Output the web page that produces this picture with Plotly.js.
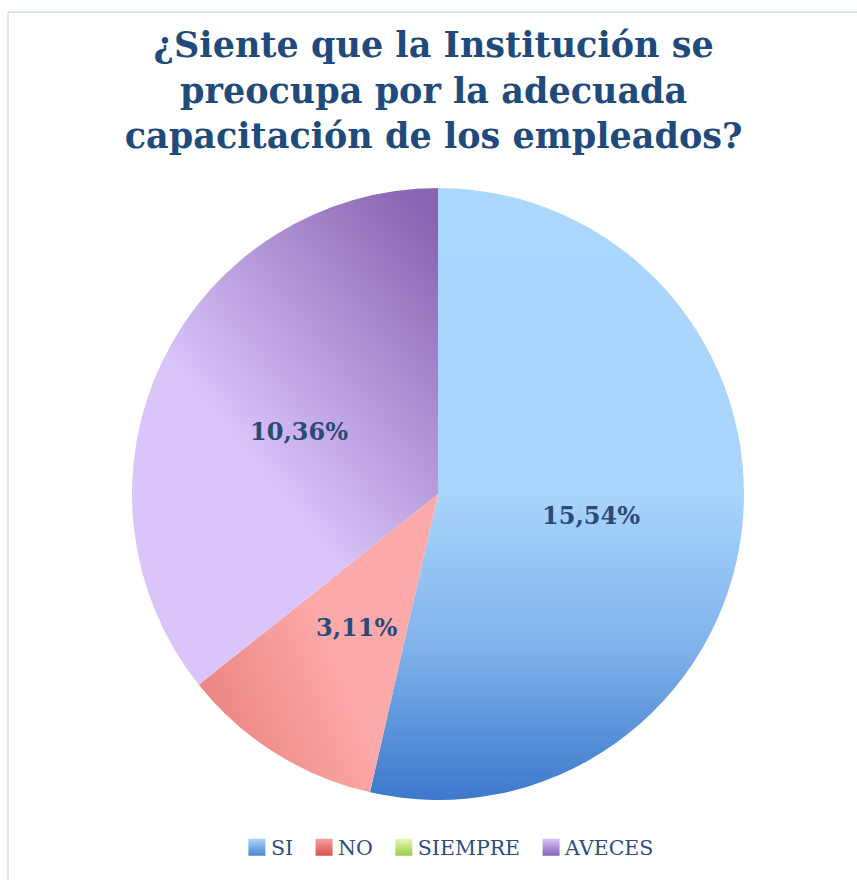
<!DOCTYPE html>
<html><head><meta charset="utf-8">
<script src="https://cdn.plot.ly/plotly-3.0.1.min.js"></script>
<style>html,body{margin:0;padding:0;background:#fff;}</style>
</head><body>
<div id="chart" style="width:857px;height:880px;"></div>
<script>
const categories = ["SI", "NO", "SIEMPRE", "AVECES"];
const values = [15.54, 3.11, 0, 10.36];
const labelsText = values.map(v => v.toFixed(2).replace('.', ',') + '%');
const colors = ["#9DCBF7", "#F9A4A4", "#C6E37E", "#CDB6F2"];

// gradient styling (fill only)
const sliceGrad = [
  {x1:0, y1:0, x2:0, y2:1, stops:[[0,'#ABD7FE'],[0.5,'#A9D4FC'],[0.75,'#80B2EB'],[1,'#3C79CC']]},
  {x1:0, y1:0.65, x2:0.5, y2:0.4, stops:[[0,'#EC8682'],[1,'#FCA9A9']]},
  {x1:0, y1:0, x2:0, y2:1, stops:[[0,'#E6F7AF'],[1,'#9BCB4B']]},
  {x1:0.9, y1:0, x2:0.45, y2:0.6, stops:[[0,'#8964B2'],[1,'#DAC5FA']]}
];
const legendGrad = [
  [['#AAD3F9',0],['#4A87D4',1]],
  [['#F6A2A2',0],['#D94F4C',1]],
  [['#E8F8B2',0],['#9BCB4B',1]],
  [['#D8C3F7',0],['#8663B3',1]]
];

const total = values.reduce((a, b) => a + b, 0);
const mids = [];
let cum = 0;
values.forEach(v => { mids.push((cum + v / 2) / total * 2 * Math.PI); cum += v; });

const annotations = values.map((v, i) => v > 0 ? {
  xref: 'x', yref: 'y',
  x: 0.5 * Math.sin(mids[i]), y: 0.5 * Math.cos(mids[i]),
  text: '<b>' + labelsText[i] + '</b>', showarrow: false,
  xanchor: 'center', yanchor: 'middle', yshift: -4,
  font: {family: 'DejaVu Serif', size: 24, color: '#2A4A78'}
} : null).filter(a => a);

const pieTrace = {
  type: 'pie',
  labels: categories,
  values: values,
  text: labelsText,
  textinfo: 'none',
  sort: false,
  direction: 'clockwise',
  rotation: 0,
  marker: {colors: colors, line: {width: 0}},
  hoverinfo: 'label+text'
};
const axisHolder = {type: 'scatter', x: [], y: [], showlegend: false, hoverinfo: 'skip'};

const layout = {
  width: 857, height: 880,
  margin: {l: 130, r: 111, t: 188, b: 75},
  paper_bgcolor: '#ffffff',
  plot_bgcolor: 'rgba(0,0,0,0)',
  xaxis: {range: [-1, 1], visible: false, fixedrange: true},
  yaxis: {range: [-1, 1], visible: false, fixedrange: true},
  title: {
    text: '<b>¿Siente que la Institución se<br>preocupa por la adecuada<br>capacitación de los empleados?</b>',
    font: {family: 'DejaVu Serif', size: 35, color: '#1F4A7C'},
    x: 0.506, xanchor: 'center', y: 0.935, yanchor: 'top', yref: 'container'
  },
  showlegend: true,
  legend: {
    orientation: 'h', x: 0.512, xanchor: 'center', y: -0.045, yanchor: 'top',
    font: {family: 'DejaVu Serif', size: 20.5, color: '#2B4C7E'},
    traceorder: 'normal'
  },
  annotations: annotations,
  shapes: [
    {type: 'line', xref: 'paper', yref: 'paper', x0: -0.198, x1: 1.25, y0: 1.287, y1: 1.287,
     line: {color: '#D3DEEE', width: 1.5}, layer: 'below'},
    {type: 'line', xref: 'paper', yref: 'paper', x0: -0.198, x1: -0.198, y0: -0.2, y1: 1.287,
     line: {color: '#D3DEEE', width: 1.5}, layer: 'below'}
  ]
};

function addGrad(defs, id, g) {
  const ns = 'http://www.w3.org/2000/svg';
  const lg = document.createElementNS(ns, 'linearGradient');
  lg.setAttribute('id', id);
  lg.setAttribute('x1', g.x1); lg.setAttribute('y1', g.y1);
  lg.setAttribute('x2', g.x2); lg.setAttribute('y2', g.y2);
  g.stops.forEach(s => {
    const st = document.createElementNS(ns, 'stop');
    st.setAttribute('offset', s[0]);
    st.setAttribute('stop-color', s[1]);
    lg.appendChild(st);
  });
  defs.appendChild(lg);
}

Plotly.newPlot('chart', [pieTrace, axisHolder], layout, {displayModeBar: false, staticPlot: true}).then(gd => {
  const svg = gd.querySelector('.main-svg');
  let defs = svg.querySelector('defs');
  if (!defs) { defs = document.createElementNS('http://www.w3.org/2000/svg', 'defs'); svg.insertBefore(defs, svg.firstChild); }
  sliceGrad.forEach((g, i) => addGrad(defs, 'sg' + i, g));
  legendGrad.forEach((s, i) => addGrad(defs, 'lg' + i, {x1:0, y1:0, x2:0, y2:1, stops: s.map(a => [a[1], a[0]])}));
  gd.querySelectorAll('g.slice').forEach((el, k) => {
    const d = el.__data__;
    const i = (d && d.i !== undefined) ? d.i : k;
    const p = el.querySelector('path.surface');
    if (p) p.style.fill = 'url(#sg' + i + ')';
  });
  gd.querySelectorAll('.legend g.traces').forEach((el, k) => {
    const d = el.__data__;
    const i = (d && d[0] && d[0].i !== undefined) ? d[0].i : k;
    const p = el.querySelector('path.legendpie');
    if (p) {
      p.setAttribute('d', 'M8.5,8.5H-8.5V-8.5H8.5Z');
      p.setAttribute('transform', 'translate(26,0)');
      p.style.fill = 'url(#lg' + i + ')';
      p.style.stroke = 'none';
    }
  });
});
</script>
</body></html>
